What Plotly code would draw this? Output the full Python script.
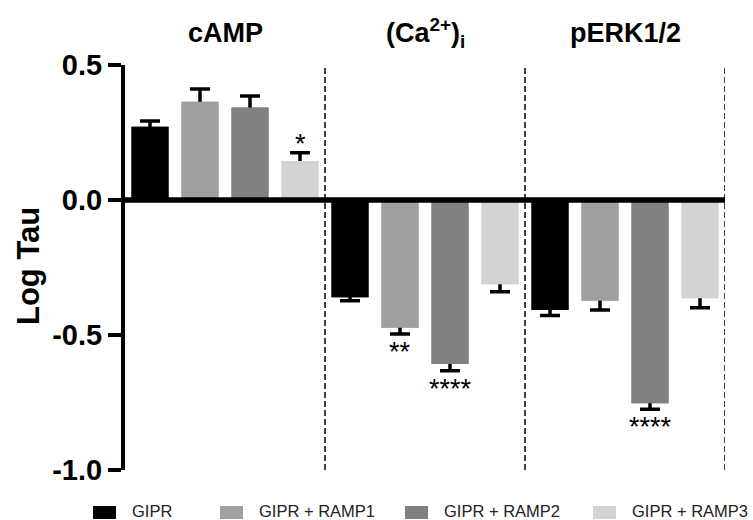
import plotly.graph_objects as go

# ---------------- data ----------------
assays = ["cAMP", "(Ca<sup>2+</sup>)<sub>i</sub>", "pERK1/2"]
conditions = ["GIPR", "GIPR + RAMP1", "GIPR + RAMP2", "GIPR + RAMP3"]
colors = ["#000000", "#a0a0a2", "#808080", "#d3d3d3"]

log_tau_gipr = [0.271, -0.360, -0.407]
log_tau_ramp1 = [0.364, -0.473, -0.373]
log_tau_ramp2 = [0.343, -0.607, -0.753]
log_tau_ramp3 = [0.144, -0.312, -0.364]

sem_gipr = [0.022, 0.013, 0.021]
sem_ramp1 = [0.047, 0.023, 0.034]
sem_ramp2 = [0.042, 0.025, 0.022]
sem_ramp3 = [0.031, 0.028, 0.035]

sig_gipr = ["", "", ""]
sig_ramp1 = ["", "**", ""]
sig_ramp2 = ["", "****", "****"]
sig_ramp3 = ["*", "", ""]

yticks = [-1.0, -0.5, 0.0, 0.5]
yticklabels = ["-1.0", "-0.5", "0.0", "0.5"]

values = [log_tau_gipr, log_tau_ramp1, log_tau_ramp2, log_tau_ramp3]
sems = [sem_gipr, sem_ramp1, sem_ramp2, sem_ramp3]
sigs = [sig_gipr, sig_ramp1, sig_ramp2, sig_ramp3]

n_cond = len(conditions)
n_assay = len(assays)

# ---------------- layout constants ----------------
W, H = 753, 520
ML, MR, MT, MB = 125, 28, 65, 50
PW, PH = W - ML - MR, H - MT - MB
FONT = "Liberation Sans, Arial, sans-serif"
BAR_W = 0.74


def px_x(px):
    return (px - ML) / PW


def px_y(py):
    return (H - MB - py) / PH


fig = go.Figure()

annotations = []
# error bars (symmetric; inner half is hidden by the bars drawn on top)
for ci in range(n_cond):
    xs = [ai * n_cond + ci for ai in range(n_assay)]
    fig.add_trace(go.Bar(
        x=xs, y=values[ci], width=BAR_W, name=conditions[ci],
        marker=dict(color=colors[ci], line=dict(width=0)),
        error_y=dict(type="data", array=sems[ci], color="black", thickness=3.5, width=10),
        showlegend=False, hoverinfo="skip",
    ))
# bars on top
for ci in range(n_cond):
    xs = [ai * n_cond + ci for ai in range(n_assay)]
    vals = values[ci]
    fig.add_trace(go.Bar(
        x=xs, y=vals, width=BAR_W, name=conditions[ci],
        marker=dict(color=colors[ci], line=dict(width=0)),
        showlegend=False,
    ))
    for x, v, s, lab in zip(xs, vals, sems[ci], sigs[ci]):
        if lab:
            if v >= 0:
                annotations.append(dict(x=x, y=v + s, xref="x", yref="y", text=lab,
                                        showarrow=False, yanchor="bottom", yshift=-8,
                                        font=dict(family=FONT, size=27, color="black")))
            else:
                annotations.append(dict(x=x, y=v - s, xref="x", yref="y", text=lab,
                                        showarrow=False, yanchor="top", yshift=-1,
                                        font=dict(family=FONT, size=27, color="black")))

# group titles
for ai, name in enumerate(assays):
    annotations.append(dict(x=ai * n_cond + (n_cond - 1) / 2, y=px_y(33), xref="x", yref="paper",
                            text=name, showarrow=False, yanchor="middle",
                            font=dict(family=FONT, size=27, color="black", weight="bold")))

# y axis title
annotations.append(dict(x=px_x(28), y=px_y(266), xref="paper", yref="paper", text="Log Tau",
                        textangle=-90, showarrow=False, xanchor="center", yanchor="middle",
                        font=dict(family=FONT, size=31, color="black", weight="bold")))

shapes = []
# dashed separators
for ai in range(n_assay):
    xb = ai * n_cond + n_cond - 0.5
    shapes.append(dict(type="line", xref="x", yref="y", x0=xb, x1=xb, y0=yticks[0], y1=yticks[-1],
                       line=dict(color="black", width=1.5, dash="6px,3px"), layer="above"))
# zero line
shapes.append(dict(type="line", xref="x", yref="y", x0=-0.5, x1=n_cond * n_assay - 0.5, y0=0, y1=0,
                   line=dict(color="black", width=5.5), layer="above"))

# legend (manual swatches)
legend_swatch_px = [93, 220, 405, 593]
for ci in range(n_cond):
    x0 = legend_swatch_px[ci]
    shapes.append(dict(type="rect", xref="paper", yref="paper",
                       x0=px_x(x0), x1=px_x(x0 + 23), y0=px_y(519), y1=px_y(506),
                       fillcolor=colors[ci], line=dict(width=0)))
    annotations.append(dict(x=px_x(x0 + 38), y=px_y(511), xref="paper", yref="paper",
                            text=conditions[ci], showarrow=False, xanchor="left", yanchor="middle",
                            borderpad=0,
                            font=dict(family=FONT, size=16.5, color="#222222")))

fig.update_layout(
    width=W, height=H,
    margin=dict(l=ML, r=MR, t=MT, b=MB, pad=0),
    paper_bgcolor="white", plot_bgcolor="white",
    barmode="overlay",
    showlegend=False,
    annotations=annotations,
    shapes=shapes,
    xaxis=dict(range=[-0.5, n_cond * n_assay - 0.5], visible=False, fixedrange=True),
    yaxis=dict(range=[yticks[0], yticks[-1]], tickvals=yticks, ticktext=yticklabels,
               showgrid=False, zeroline=False, showline=True, linecolor="black", linewidth=4,
               ticks="outside", ticklen=13, tickwidth=4, tickcolor="black",
               tickfont=dict(family=FONT, size=29, color="black", weight="bold"),
               ticklabelstandoff=0, fixedrange=True),
)

fig.write_html("out.html", config={"displayModeBar": False},
               post_script="document.body.style.margin='0';document.body.style.overflow='hidden';")
